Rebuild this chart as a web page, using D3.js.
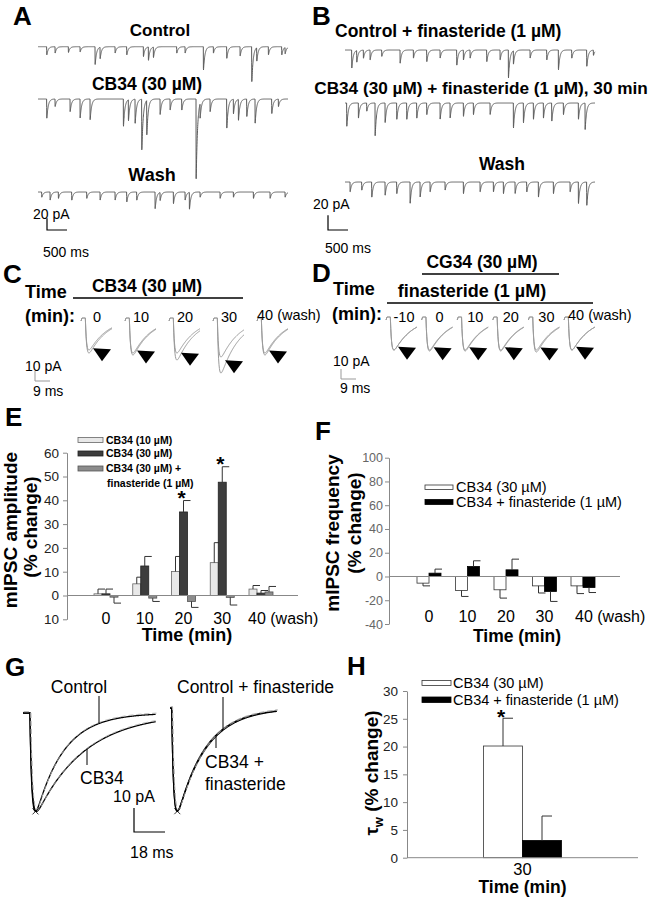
<!DOCTYPE html>
<html>
<head>
<meta charset="utf-8">
<script src="https://cdn.jsdelivr.net/npm/d3@7/dist/d3.min.js"></script>
<style>
  body { margin: 0; background: #fff; }
  svg text { font-family: "Liberation Sans", Arial, sans-serif; }
</style>
</head>
<body>
<svg id="fig" width="660" height="899"></svg>
<script>
// ---------- data ----------
// A / B: spontaneous mIPSC events, [time (ms), amplitude (pA)]
const aControlEvents = [[217,14],[425,11],[758,10],[1050,9],[1425,31],[1550,20],[1925,11],[2217,14],[2633,17],[2758,23],[2883,18],[3467,11],[3675,11],[4133,40],[4383,11],[4717,20],[5050,16],[5342,60],[5467,23],[5758,14],[6092,14],[6175,11]];
const aCb34Events = [[217,33],[425,13],[800,22],[1050,33],[1300,36],[2133,47],[2258,36],[2425,42],[2592,87],[2717,59],[3050,27],[3300,19],[3592,19],[3950,139],[4050,25],[4300,22],[4717,50],[4883,25],[5008,36],[5217,30],[5425,42],[5842,25],[6008,13]];
const aWashEvents = [[92,9],[300,14],[508,11],[842,14],[1217,11],[1550,14],[1925,14],[2217,17],[2467,14],[2925,29],[3050,14],[3383,20],[3675,14],[3783,29],[4050,9],[4550,11],[4883,9],[5383,11],[5800,11],[6175,9]];
const bControlEvents = [[167,31],[292,20],[458,14],[625,17],[917,11],[1375,23],[1708,14],[2042,20],[2375,14],[2792,26],[2958,17],[3125,14],[3542,20],[3875,17],[4083,48],[4208,23],[4625,14],[5042,17],[5333,34],[5667,14],[6042,28],[6208,9]];
const bCb34Events = [[42,40],[333,26],[542,14],[750,57],[1000,34],[1292,28],[1542,28],[1792,26],[2042,20],[2375,28],[2625,26],[2958,23],[3208,20],[3625,20],[4208,43],[4458,34],[4708,28],[4958,26],[5167,31],[5458,20],[5833,28],[6000,46]];
const bWashEvents = [[125,17],[417,14],[667,26],[1000,23],[1292,20],[1625,37],[1875,26],[2125,17],[2500,14],[2958,20],[3375,17],[3708,17],[3958,20],[4250,20],[4542,17],[4833,26],[5208,20],[5625,17],[5833,37],[6042,40]];

// C / D: averaged mIPSC peak amplitude (pA), control trace and drug trace
const cTimes = ['0', '10', '20', '30', '40'];
const cControlAmp = [32, 35, 35, 39, 35];
const cDrugAmp = [35, 37, 42, 55, 37];
const dTimes = ['-10', '0', '10', '20', '30', '40'];
const dControlAmp = [33, 33, 33, 33, 33, 33];
const dDrugAmp = [33, 34, 34, 34, 35, 33];

// E: mIPSC amplitude (% change)
const eTimes = ['0', '10', '20', '30', '40'];
const eCb10 = [0.7, 4.9, 10.1, 13.8, 2.7];
const eCb10Err = [2, 2.8, 6.3, 8.4, 1.5];
const eCb30 = [0.7, 12.4, 35.1, 47.6, 1.0];
const eCb30Err = [2, 4, 4.8, 6.5, 1.1];
const eCb30Fin = [-0.7, -1.1, -2.5, -0.8, 1.5];
const eCb30FinErr = [2.5, 1.4, 2.5, 3.2, 2.3];
const eStars = ['20', '30'];
const eTicks = [-10, 0, 10, 20, 30, 40, 50, 60];
const eTickLabels = ['10', '0', '10', '20', '30', '40', '50', '60'];

// F: mIPSC frequency (% change)
const fTimes = ['0', '10', '20', '30', '40'];
const fCb30 = [-5.6, -11.8, -11.2, -7.9, -7.9];
const fCb30Err = [2.3, 5, 7, 6, 6.5];
const fCb30Fin = [2.8, 8.4, 5.6, -12.6, -9.3];
const fCb30FinErr = [3.4, 4.8, 9, 8.4, 4.2];
const fTicks = [-40, -20, 0, 20, 40, 60, 80, 100];

// G: decay of averaged mIPSC, [amplitude pA, decay tau ms]
const gControl = [41, 16];
const gCb34 = [41, 28];
const gFinControl = [43, 16];
const gFinCb34 = [43, 16.5];

// H: tau_w (% change) at 30 min
const hTimes = ['30'];
const hCb30 = [20.1];
const hCb30Err = [5];
const hCb30Fin = [3.1];
const hCb30FinErr = [4.4];
const hTicks = [0, 5, 10, 15, 20, 25, 30];

// ---------- helpers ----------
const svg = d3.select('#fig');

function text(x, y, t, o = {}) {
  return svg.append('text')
    .attr('x', x).attr('y', y)
    .attr('font-size', o.size || 14)
    .attr('font-weight', o.bold ? 'bold' : null)
    .attr('text-anchor', o.anchor || 'start')
    .attr('fill', o.fill || '#000')
    .text(t);
}

function vtext(x, y, t, size) {
  return svg.append('text')
    .attr('transform', `translate(${x},${y}) rotate(-90)`)
    .attr('text-anchor', 'middle')
    .attr('font-size', size)
    .attr('font-weight', 'bold')
    .text(t);
}

function line(pts, stroke, width, dash) {
  return svg.append('path')
    .attr('d', d3.line()(pts))
    .attr('fill', 'none')
    .attr('stroke', stroke)
    .attr('stroke-width', width)
    .attr('stroke-dasharray', dash || null);
}

function kernel(dt, tr, td) {
  return (1 - Math.exp(-dt / tr)) * Math.exp(-dt / td);
}
function peakNorm(tr, td) {
  return kernel(tr * Math.log(1 + td / tr), tr, td);
}

// raw recordings (A, B)
const RAW_DUR = 6250;
const rawPA = d3.scaleLinear().domain([0, 20]).range([0, 11.7]);
function rawTrace(events, xs, y0) {
  const norm = peakNorm(1, 35);
  const pts = d3.range(0, RAW_DUR + 0.1, 2.5).map(t => {
    let v = 0;
    events.forEach(([t0, a]) => {
      const dt = t - t0;
      if (dt > 0 && dt < 400) v += a * kernel(dt, 1, 35) / norm;
    });
    return [xs(t), y0 + rawPA(v)];
  });
  line(pts, '#5a5a5a', 1);
}

// averaged events (C, D, G)
function avgPoints(x0, y0, amp, tau, msS, paS, pre, dur, tr) {
  const norm = peakNorm(tr, tau);
  return d3.range(-pre, dur + 0.01, 0.25).map(t => [
    x0 + msS(t + pre),
    y0 + paS(t <= 0 ? 0 : amp * kernel(t, tr, tau) / norm)
  ]);
}

function yAxis(scale, x, ticks, labels, size, color, pad) {
  const g = svg.append('g')
    .attr('transform', `translate(${x},0)`)
    .call(d3.axisLeft(scale).tickValues(ticks)
      .tickFormat((d, i) => labels[i])
      .tickSize(4).tickSizeOuter(0).tickPadding(pad));
  g.select('.domain').attr('stroke', '#888');
  g.selectAll('.tick line').attr('stroke', '#888');
  g.selectAll('.tick text').attr('fill', color).attr('font-size', size);
}

function groupedBars(cats, xs, ys, series, inner, capW) {
  series.forEach((s, j) => {
    const g = svg.append('g');
    g.selectAll('rect').data(cats).join('rect')
      .attr('x', c => xs(c) + inner(j))
      .attr('width', inner.bandwidth())
      .attr('y', (c, i) => Math.min(ys(s.values[i]), ys(0)))
      .attr('height', (c, i) => Math.abs(ys(s.values[i]) - ys(0)))
      .attr('fill', s.fill)
      .attr('stroke', s.stroke)
      .attr('stroke-width', 0.8);
    cats.forEach((c, i) => {
      const v = s.values[i];
      const end = v + (v < 0 ? -s.errors[i] : s.errors[i]);
      const cx = xs(c) + inner(j) + inner.bandwidth() / 2;
      g.append('path')
        .attr('d', `M${cx},${ys(v)}V${ys(end)}M${cx},${ys(end)}H${cx + capW}`)
        .attr('fill', 'none').attr('stroke', '#333').attr('stroke-width', 1);
    });
  });
}

function starAt(x, yTop) {
  text(x, yTop + 4, '*', { size: 21, bold: true, anchor: 'middle' });
}

function legendRow(x, y, w, h, fill, stroke, label, size, bold, tx) {
  svg.append('rect').attr('x', x).attr('y', y).attr('width', w).attr('height', h)
    .attr('fill', fill).attr('stroke', stroke).attr('stroke-width', 0.8);
  text(tx, y + h / 2 + size * 0.36, label, { size: size, bold: bold });
}

// ---------- panel letters ----------
[['A', 13, 25], ['B', 312, 25], ['C', 3, 283], ['D', 312, 282],
 ['E', 5, 426], ['F', 315, 440], ['G', 5, 676], ['H', 347, 675]]
  .forEach(([l, x, y]) => text(x, y, l, { size: 26, bold: true }));

// ---------- A ----------
const aX = d3.scaleLinear().domain([0, RAW_DUR]).range([38, 288]);
text(160, 36, 'Control', { size: 17, bold: true, anchor: 'middle' });
rawTrace(aControlEvents, aX, 46.7);
text(147, 90, 'CB34 (30 µM)', { size: 17.5, bold: true, anchor: 'middle' });
rawTrace(aCb34Events, aX, 99);
text(152, 181, 'Wash', { size: 18, bold: true, anchor: 'middle' });
rawTrace(aWashEvents, aX, 192);
const aBarX = 47, aBarY = 230;
line([[aBarX, aBarY - rawPA(20)], [aBarX, aBarY], [aBarX + aX(500) - aX(0), aBarY]], '#000', 1.2);
text(33, 219, '20 pA', { size: 14 });
text(43, 257, '500 ms', { size: 14 });

// ---------- B ----------
const bX = d3.scaleLinear().domain([0, RAW_DUR]).range([345, 595]);
text(335, 37, 'Control + finasteride (1 µM)', { size: 17.5, bold: true });
rawTrace(bControlEvents, bX, 50);
text(481, 94, 'CB34 (30 µM) + finasteride (1 µM), 30 min', { size: 17.2, bold: true, anchor: 'middle' });
rawTrace(bCb34Events, bX, 103);
text(502, 170, 'Wash', { size: 17.5, bold: true, anchor: 'middle' });
rawTrace(bWashEvents, bX, 182);
const bBarX = 328, bBarY = 230;
line([[bBarX, bBarY - rawPA(20) - 3], [bBarX, bBarY], [bBarX + bX(500) - bX(0), bBarY]], '#000', 1.2);
text(313, 209, '20 pA', { size: 14 });
text(325, 253, '500 ms', { size: 14 });

// ---------- C / D ----------
const evMs = d3.scaleLinear().domain([0, 9]).range([0, 15]);
const evPA = d3.scaleLinear().domain([0, 10]).range([0, 10]);
const EV_PRE = 2, EV_DUR = 16, EV_TR = 0.8, EV_TAU = 11;

function evokedRow(times, xs, y0, ctrl, drug, labelDx, lastLabel) {
  times.forEach((t, i) => {
    const x0 = xs(t);
    [drug[i], ctrl[i]].forEach(a => {
      const pts = avgPoints(x0, y0, a, EV_TAU, evMs, evPA, EV_PRE, EV_DUR, EV_TR);
      pts.unshift([x0 - 1, y0 + 3]);
      line(pts, '#9a9a9a', 1);
    });
    const tcx = x0 + evMs(12);
    const ttop = y0 + evPA((ctrl[i] + drug[i]) / 2) * 0.9;
    svg.append('path')
      .attr('d', `M${tcx - 9},${ttop}L${tcx + 9},${ttop + 1}L${tcx},${ttop + 13}Z`)
      .attr('fill', '#000');
    if (i === times.length - 1) lastLabel(x0);
    else text(x0 + labelDx, 322, t, { size: 14.5, anchor: 'middle' });
  });
}

// C
text(25, 298, 'Time', { size: 18, bold: true });
text(25, 322, '(min):', { size: 18, bold: true });
text(147, 292, 'CB34 (30 µM)', { size: 17.5, bold: true, anchor: 'middle' });
line([[73, 298], [243, 298]], '#000', 1.3);
const cX = d3.scalePoint().domain(cTimes).range([82, 258]);
evokedRow(cTimes, cX, 318, cControlAmp, cDrugAmp, 15,
  x0 => text(x0 - 1, 320, '40 (wash)', { size: 14.5 }));
line([[35, 381 - evPA(10)], [35, 381], [35 + evMs(9), 381]], '#999', 1);
text(25, 371, '10 pA', { size: 14 });
text(33, 396, '9 ms', { size: 14 });

// D
text(482, 268, 'CG34 (30 µM)', { size: 17.5, bold: true, anchor: 'middle' });
line([[422, 274], [559, 274]], '#000', 1.3);
text(333, 295, 'Time', { size: 18, bold: true });
text(472, 297, 'finasteride (1 µM)', { size: 18, bold: true, anchor: 'middle' });
line([[387, 303], [593, 303]], '#000', 1.3);
text(332, 320, '(min):', { size: 18, bold: true });
const dX = d3.scalePoint().domain(dTimes).range([387, 565]);
evokedRow(dTimes, dX, 317, dControlAmp, dDrugAmp, 17,
  x0 => text(x0 + 3, 320, '40 (wash)', { size: 14.5 }));
line([[341, 379 - evPA(10)], [341, 379], [341 + evMs(9), 379]], '#999', 1);
text(333, 366, '10 pA', { size: 14 });
text(340, 393, '9 ms', { size: 14 });

// ---------- E ----------
const eX = d3.scalePoint().domain(eTimes).range([106, 261]);
const eY = d3.scaleLinear().domain([-10, 60]).range([619.3, 452.7]);
const eInner = d3.scaleBand().domain(d3.range(3)).range([-12, 12]);
yAxis(eY, 67, eTicks, eTickLabels, 13.5, '#222', 4);
groupedBars(eTimes, eX, eY, [
  { values: eCb10, errors: eCb10Err, fill: '#e8e8e8', stroke: '#666' },
  { values: eCb30, errors: eCb30Err, fill: '#3d3d3d', stroke: '#222' },
  { values: eCb30Fin, errors: eCb30FinErr, fill: '#8c8c8c', stroke: '#555' }
], eInner, 7);
line([[67, eY(0)], [298, eY(0)]], '#888', 1);
eStars.forEach(t => {
  const i = eTimes.indexOf(t);
  starAt(eX(t) + eInner(1) + eInner.bandwidth() / 2 - 2, eY(eCb30[i] + eCb30Err[i]));
});
eTimes.forEach((t, i) => {
  if (i === eTimes.length - 1) text(eX(t) - 13, 624, '40 (wash)', { size: 16 });
  else text(eX(t), 624, t, { size: 16, anchor: 'middle' });
});
text(187, 641, 'Time (min)', { size: 18, bold: true, anchor: 'middle' });
vtext(17, 530, 'mIPSC amplitude', 19);
vtext(37, 527, '(% change)', 19);
legendRow(78, 437.5, 25, 5, '#e8e8e8', '#666', 'CB34 (10 µM)', 10.5, true, 106);
legendRow(78, 451, 25, 5, '#3d3d3d', '#222', 'CB34 (30 µM)', 10.5, true, 106);
legendRow(78, 466, 25, 5, '#8c8c8c', '#555', 'CB34 (30 µM) +', 10.5, true, 106);
text(107, 487, 'finasteride (1 µM)', { size: 10.5, bold: true });

// ---------- F ----------
const fX = d3.scalePoint().domain(fTimes).range([429, 583]);
const fY = d3.scaleLinear().domain([-40, 100]).range([624, 457.7]);
const fInner = d3.scaleBand().domain(d3.range(2)).range([-12, 12]);
yAxis(fY, 389, fTicks, fTicks.map(String), 12.5, '#666', 2);
groupedBars(fTimes, fX, fY, [
  { values: fCb30, errors: fCb30Err, fill: '#fff', stroke: '#333' },
  { values: fCb30Fin, errors: fCb30FinErr, fill: '#000', stroke: '#000' }
], fInner, 7);
line([[389, fY(0)], [620, fY(0)]], '#888', 1);
fTimes.forEach((t, i) => {
  if (i === fTimes.length - 1) text(fX(t) - 8, 622, '40 (wash)', { size: 16 });
  else text(fX(t), 622, t, { size: 16, anchor: 'middle' });
});
text(517, 642, 'Time (min)', { size: 17.5, bold: true, anchor: 'middle' });
vtext(339, 533, 'mIPSC frequency', 19);
vtext(361, 523, '(% change)', 19);
legendRow(425, 485, 28, 4.5, '#fff', '#333', 'CB34 (30 µM)', 14.5, false, 456);
legendRow(425, 499.5, 28, 5, '#000', '#000', 'CB34 + finasteride (1 µM)', 14.5, false, 456);

// ---------- G ----------
const gMs = d3.scaleLinear().domain([0, 18]).range([0, 31]);
const gPA = d3.scaleLinear().domain([0, 10]).range([0, 24]);
const G_TR = 1.2;
const gLeft = { x0: 23, y0: 713, pre: 4, dur: 73 };
const gRight = { x0: 170, y0: 708, pre: 1, dur: 61 };

function gTrace(p, [amp, tau]) {
  const pts = avgPoints(p.x0, p.y0, amp, tau, gMs, gPA, p.pre, p.dur, G_TR);
  line(pts, '#000', 1.3);
  line(pts.map(([x, y]) => [x + 0.8, y - 1.2]), '#aaa', 1, '5,3');
  return pts;
}
function yOnTrace(pts, x) {
  const i = d3.bisector(d => d[0]).left(pts, x);
  return pts[Math.min(i, pts.length - 1)][1];
}
function peakCross(pts) {
  const pk = pts.reduce((a, b) => (b[1] > a[1] ? b : a));
  line([[pk[0] - 3, pk[1] - 3], [pk[0] + 3, pk[1] + 3]], '#000', 0.8);
  line([[pk[0] - 3, pk[1] + 3], [pk[0] + 3, pk[1] - 3]], '#000', 0.8);
}

const gc = gTrace(gLeft, gControl);
const gd = gTrace(gLeft, gCb34);
const gfc = gTrace(gRight, gFinControl);
const gfd = gTrace(gRight, gFinCb34);
peakCross(gc);
peakCross(gfc);

text(79, 693, 'Control', { size: 17.5, anchor: 'middle' });
line([[99, 696], [99, yOnTrace(gc, 99)]], '#000', 1);
text(80, 784, 'CB34', { size: 17.5 });
line([[87, yOnTrace(gd, 87)], [87, 765]], '#000', 1);
text(177, 693, 'Control + finasteride', { size: 17.5 });
line([[223, 697], [223, yOnTrace(gfc, 223)]], '#000', 1);
text(205, 768, 'CB34 +', { size: 17.5 });
text(205, 790, 'finasteride', { size: 17.5 });
line([[216, yOnTrace(gfd, 216)], [216, 748]], '#000', 1);
line([[134, 832 - gPA(10)], [134, 832], [134 + gMs(18), 832]], '#000', 1.2);
text(113, 802, '10 pA', { size: 16 });
text(130, 858, '18 ms', { size: 16 });

// ---------- H ----------
const hX = d3.scaleBand().domain(hTimes).range([407, 638]);
const hY = d3.scaleLinear().domain([0, 30]).range([857.7, 691]);
const hInner = d3.scaleBand().domain(d3.range(2)).range([-39, 39]);
const hCenter = t => hX(t) + hX.bandwidth() / 2;
yAxis(hY, 407, hTicks, hTicks.map(String), 13.5, '#222', 5);
groupedBars(hTimes, hCenter, hY, [
  { values: hCb30, errors: hCb30Err, fill: '#fff', stroke: '#333' },
  { values: hCb30Fin, errors: hCb30FinErr, fill: '#000', stroke: '#000' }
], hInner, 10);
line([[407, hY(0)], [638, hY(0)]], '#888', 1);
starAt(hCenter('30') + hInner(0) + hInner.bandwidth() / 2 - 2, hY(hCb30[0] + hCb30Err[0]) + 2);
text(hCenter('30'), 875, '30', { size: 16.5, anchor: 'middle' });
text(hCenter('30'), 893, 'Time (min)', { size: 17.5, bold: true, anchor: 'middle' });
const hTitle = svg.append('text')
  .attr('transform', 'translate(378,773) rotate(-90)')
  .attr('text-anchor', 'middle')
  .attr('font-size', 19)
  .attr('font-weight', 'bold');
hTitle.append('tspan').text('τ');
hTitle.append('tspan').attr('dy', 5).attr('font-size', 13).text('w');
hTitle.append('tspan').attr('dy', -5).text(' (% change)');
legendRow(422, 680.5, 29, 5, '#fff', '#333', 'CB34 (30 µM)', 14.5, false, 453);
legendRow(422, 697, 29, 5.5, '#000', '#000', 'CB34 + finasteride (1 µM)', 14.5, false, 453);
</script>
</body>
</html>
